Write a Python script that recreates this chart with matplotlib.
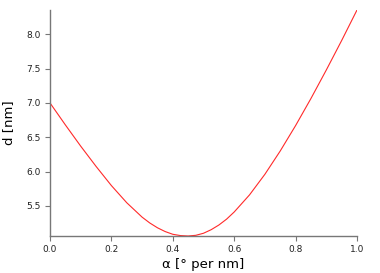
import matplotlib
matplotlib.use("Agg")
import matplotlib.pyplot as plt

# alpha [deg per nm] and d [nm]
alpha = [0.00, 0.05, 0.10, 0.15, 0.20, 0.25, 0.30, 0.325, 0.35, 0.375, 0.40,
         0.425, 0.45, 0.475, 0.50, 0.525, 0.55, 0.575, 0.60, 0.65, 0.70,
         0.75, 0.80, 0.85, 0.90, 0.95, 1.00]
d = [7.00, 6.68, 6.37, 6.075, 5.795, 5.545, 5.335, 5.25, 5.18, 5.125, 5.085,
     5.066, 5.06, 5.07, 5.10, 5.152, 5.22, 5.305, 5.41, 5.66, 5.96,
     6.30, 6.67, 7.065, 7.48, 7.91, 8.355]

xticks = [0.0, 0.2, 0.4, 0.6, 0.8, 1.0]
yticks = [5.5, 6.0, 6.5, 7.0, 7.5, 8.0]

fig = plt.figure(figsize=(3.8, 2.73), dpi=100)
ax = fig.add_axes([50/380, 37/273, 307/380, 226/273])

ax.plot(alpha, d, color="#ff2a2a", lw=0.8)

ax.set_xlim(min(alpha), max(alpha))
ax.set_ylim(min(d), max(d))
ax.set_xticks(xticks)
ax.set_yticks(yticks)
ax.set_xticklabels(["%.1f" % v for v in xticks])
ax.set_yticklabels(["%.1f" % v for v in yticks])

for s in ["top", "right"]:
    ax.spines[s].set_visible(False)
for s in ["left", "bottom"]:
    ax.spines[s].set_color("#777777")
    ax.spines[s].set_linewidth(1.0)
ax.tick_params(colors="#777777", labelcolor="#222222", labelsize=6.5,
               length=3.5, width=0.8, direction="out", pad=3)

ax.set_xlabel("α [° per nm]", fontsize=9.5, labelpad=3)
ax.set_ylabel("d [nm]", fontsize=9.5, labelpad=8)

fig.savefig("out.png", dpi=100)
